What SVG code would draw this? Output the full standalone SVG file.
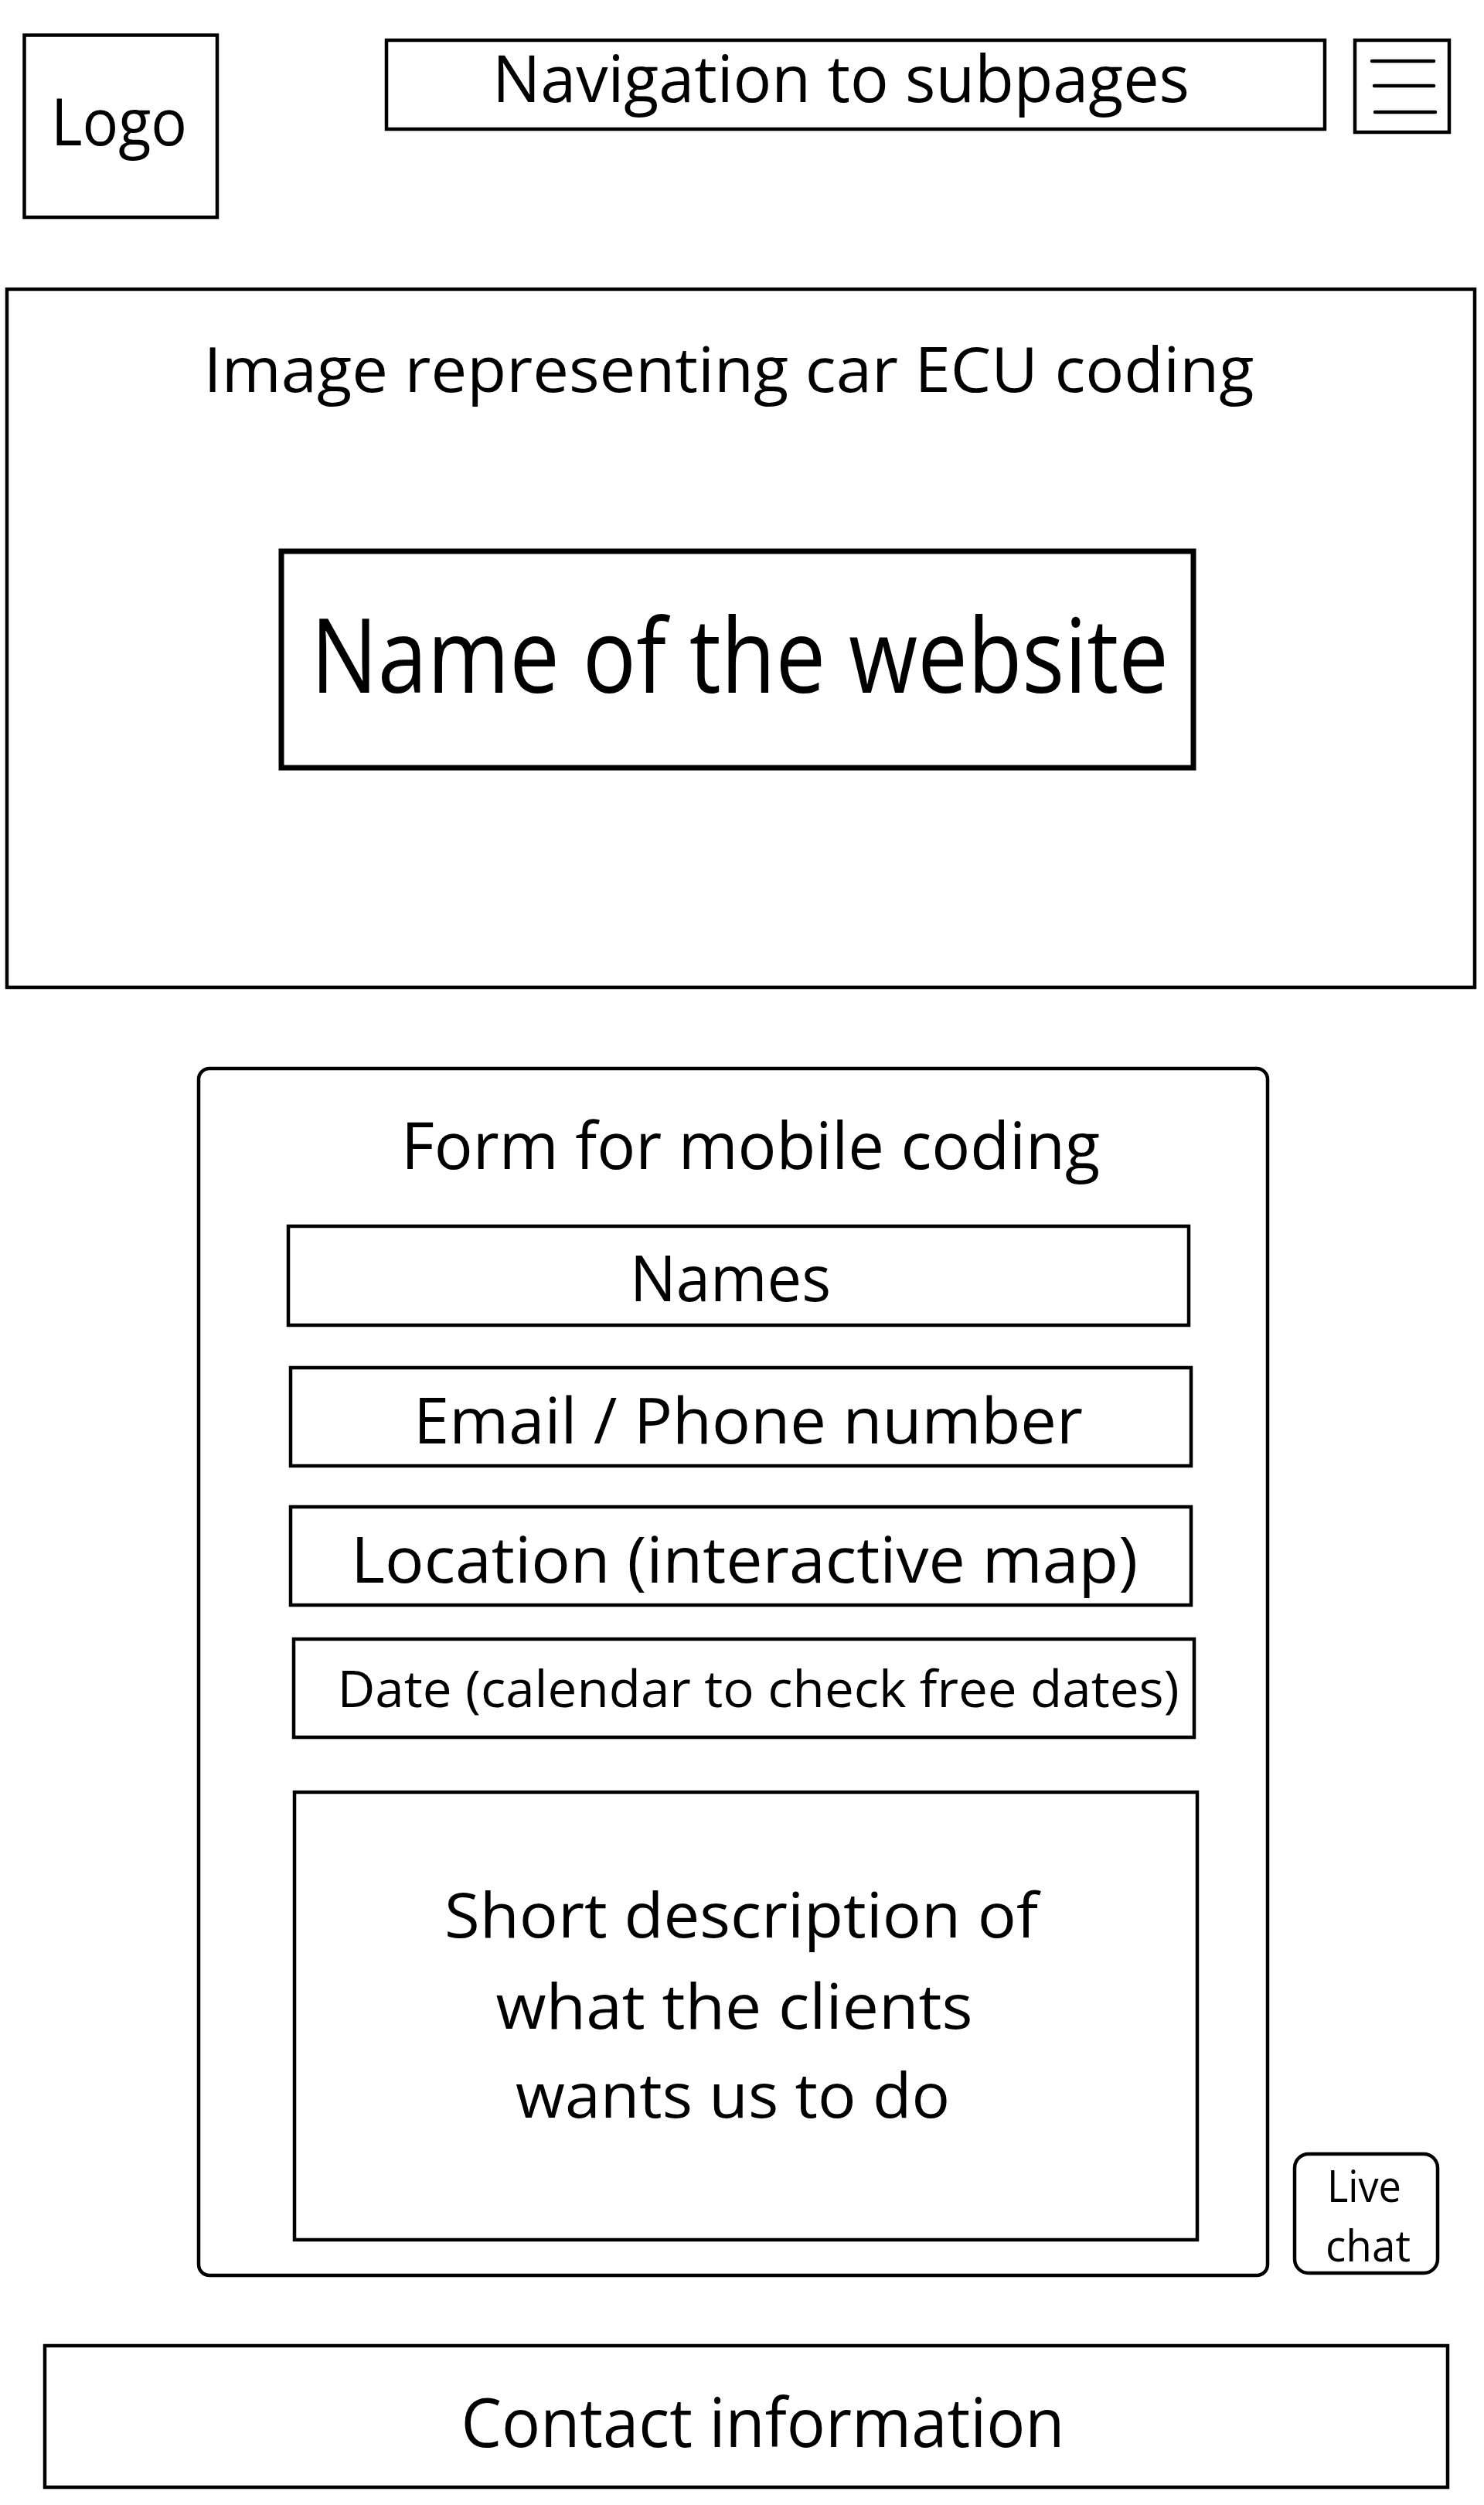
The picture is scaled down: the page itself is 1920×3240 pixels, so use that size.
<svg xmlns="http://www.w3.org/2000/svg" width="1920" height="3240" viewBox="0 0 1920 3240">
<style>
.box{fill:#fff;stroke:#000;stroke-width:4.5}
.thick{stroke-width:7}
.t{font-family:"Open Sans","Noto Sans","Liberation Sans",sans-serif;fill:#000;text-anchor:middle}
.bar{stroke:#000;stroke-width:4.5;stroke-linecap:round}
</style>
<rect width="1920" height="3240" fill="#fff"/>
<g id="logo">
<rect class="box" x="31.5" y="45.5" width="249.5" height="235.5"/>
<text class="t" x="154" y="188" font-size="84" textLength="176" lengthAdjust="spacingAndGlyphs">Logo</text>
</g>
<g id="navigation">
<rect class="box" x="500" y="52" width="1214" height="115"/>
<text class="t" x="1088" y="132" font-size="85" textLength="902" lengthAdjust="spacingAndGlyphs">Navigation to subpages</text>
</g>
<g id="menu">
<rect class="box" x="1753" y="52" width="122" height="119"/>
<line class="bar" x1="1775" y1="79" x2="1855" y2="79"/>
<line class="bar" x1="1778" y1="111" x2="1855" y2="111"/>
<line class="bar" x1="1779" y1="145" x2="1857" y2="145"/>
</g>
<g id="hero">
<rect class="box" x="9" y="374" width="1899" height="903"/>
<text class="t" x="943" y="507" font-size="81" textLength="1359" lengthAdjust="spacingAndGlyphs">Image representing car ECU coding</text>
</g>
<g id="site-name">
<rect class="box thick" x="364" y="713" width="1180" height="280"/>
<text class="t" x="957" y="896" font-size="134" textLength="1110" lengthAdjust="spacingAndGlyphs">Name of the website</text>
</g>
<g id="form">
<rect class="box" x="257" y="1382" width="1383" height="1561" rx="14" ry="14"/>
<text class="t" x="971" y="1512" font-size="85" textLength="904" lengthAdjust="spacingAndGlyphs">Form for mobile coding</text>
</g>
<g id="names">
<rect class="box" x="373" y="1586" width="1165" height="128"/>
<text class="t" x="945" y="1683" font-size="82" textLength="260" lengthAdjust="spacingAndGlyphs">Names</text>
</g>
<g id="email">
<rect class="box" x="376" y="1769" width="1165" height="127"/>
<text class="t" x="968" y="1867" font-size="82" textLength="866" lengthAdjust="spacingAndGlyphs">Email / Phone number</text>
</g>
<g id="location">
<rect class="box" x="376" y="1949" width="1165" height="127"/>
<text class="t" x="963" y="2047" font-size="82" textLength="1018" lengthAdjust="spacingAndGlyphs">Location (interactive map)</text>
</g>
<g id="date">
<rect class="box" x="380" y="2120" width="1165" height="127"/>
<text class="t" x="981" y="2208" font-size="66" textLength="1089" lengthAdjust="spacingAndGlyphs">Date (calendar to check free dates)</text>
</g>
<g id="description">
<rect class="box" x="381" y="2318" width="1168" height="579"/>
<text class="t" x="959" y="2506" font-size="80" textLength="768" lengthAdjust="spacingAndGlyphs">Short description of</text>
<text class="t" x="950" y="2624" font-size="80" textLength="617" lengthAdjust="spacingAndGlyphs">what the clients</text>
<text class="t" x="948" y="2739" font-size="80" textLength="562" lengthAdjust="spacingAndGlyphs">wants us to do</text>
</g>
<g id="live-chat">
<rect class="box" x="1675" y="2786" width="185" height="154" rx="18" ry="18"/>
<text class="t" x="1765" y="2848" font-size="56" textLength="96" lengthAdjust="spacingAndGlyphs">Live</text>
<text class="t" x="1770" y="2925" font-size="56" textLength="110" lengthAdjust="spacingAndGlyphs">chat</text>
</g>
<g id="contact">
<rect class="box" x="58" y="3034" width="1815" height="183"/>
<text class="t" x="987" y="3165" font-size="87" textLength="781" lengthAdjust="spacingAndGlyphs">Contact information</text>
</g>
<g id="connectors"/>
</svg>
